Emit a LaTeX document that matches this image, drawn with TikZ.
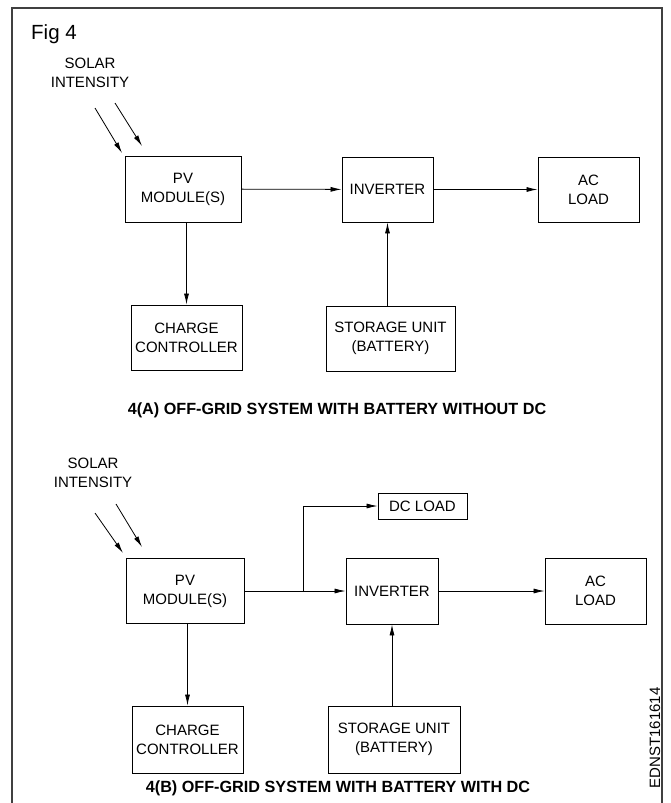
\documentclass[tikz,border=0pt]{standalone}
\usepackage{fontspec}
\setmainfont{Liberation Sans}
\usetikzlibrary{arrows.meta}
\begin{document}
\begin{tikzpicture}[x=1pt,y=-1pt,
  blk/.style={draw,line width=0.9pt,inner sep=0pt,align=center,font=\fontsize{15}{19}\selectfont},
  lbl/.style={inner sep=0pt,align=center,font=\fontsize{15}{19}\selectfont},
  captxt/.style={inner sep=0pt,font=\fontsize{16.2}{19}\selectfont\bfseries},
  arr/.style={line width=0.8pt,-{Latex[length=11pt,width=5pt]}},
  framestyle/.style={line width=1.6pt,black!75}]
\useasboundingbox (0,0) rectangle (671,803);
% frame
\draw[framestyle] (12,803) -- (12,8) -- (662,8) -- (662,803);
\node[inner sep=0pt,anchor=west,font=\fontsize{20.5}{24}\selectfont] (fig) at (31,34) {Fig 4};

% ---------- 4(A) ----------
\node[lbl] (solA) at (90,72.5) {SOLAR\\INTENSITY};
\coordinate (sa1s) at (95,108);  \coordinate (sa1e) at (122,153);
\coordinate (sa2s) at (115,103); \coordinate (sa2e) at (142,146);
\draw[arr] (sa1s) -- (sa1e);
\draw[arr] (sa2s) -- (sa2e);
\node[blk,minimum width=116pt,minimum height=66pt] (pvA) at (183,189) {PV\\MODULE(S)};
\node[blk,minimum width=91pt,minimum height=65pt] (invA) at (387.5,189.5) {INVERTER};
\node[blk,minimum width=101pt,minimum height=65pt] (acA) at (588.5,189.5) {AC\\LOAD};
\node[blk,minimum width=111pt,minimum height=65pt] (chgA) at (186.5,337.5) {CHARGE\\CONTROLLER};
\node[blk,minimum width=129pt,minimum height=65pt] (stoA) at (390.5,338.5) {STORAGE UNIT\\(BATTERY)};
\draw[arr] (pvA) -- (invA);
\draw[arr] (invA) -- (acA);
\draw[arr] (chgA.north |- pvA.south) -- (chgA.north);
\draw[arr] (stoA.north -| invA) -- (invA.south);
\node[captxt] (capA) at (337,410) {4(A) OFF-GRID SYSTEM WITH BATTERY WITHOUT DC};

% ---------- 4(B) ----------
\node[lbl] (solB) at (93,472.5) {SOLAR\\INTENSITY};
\coordinate (sb1s) at (95,513);  \coordinate (sb1e) at (123,553);
\coordinate (sb2s) at (116,504); \coordinate (sb2e) at (142,547);
\draw[arr] (sb1s) -- (sb1e);
\draw[arr] (sb2s) -- (sb2e);
\node[blk,minimum width=118pt,minimum height=65pt] (pvB) at (185,591) {PV\\MODULE(S)};
\node[blk,minimum width=92pt,minimum height=66pt] (invB) at (392,591) {INVERTER};
\node[blk,minimum width=101pt,minimum height=66pt] (acB) at (595.5,591) {AC\\LOAD};
\node[blk,minimum width=89pt,minimum height=26pt] (dcB) at (422.5,506) {DC LOAD};
\node[blk,minimum width=111pt,minimum height=67pt] (chgB) at (187.5,739.5) {CHARGE\\CONTROLLER};
\node[blk,minimum width=132pt,minimum height=67pt] (stoB) at (394,739.5) {STORAGE UNIT\\(BATTERY)};
\coordinate (brB) at (303,591);
\draw[arr] (pvB) -- (invB);
\draw[arr] (brB) |- (dcB.west);
\draw[arr] (invB) -- (acB);
\draw[arr] (chgB.north |- pvB.south) -- (chgB.north);
\draw[arr] (stoB.north -| invB) -- (invB.south);
\node[captxt] (capB) at (338,788) {4(B) OFF-GRID SYSTEM WITH BATTERY WITH DC};
\node[lbl,rotate=90] (code) at (655,738) {EDNST161614};
\end{tikzpicture}
\end{document}
